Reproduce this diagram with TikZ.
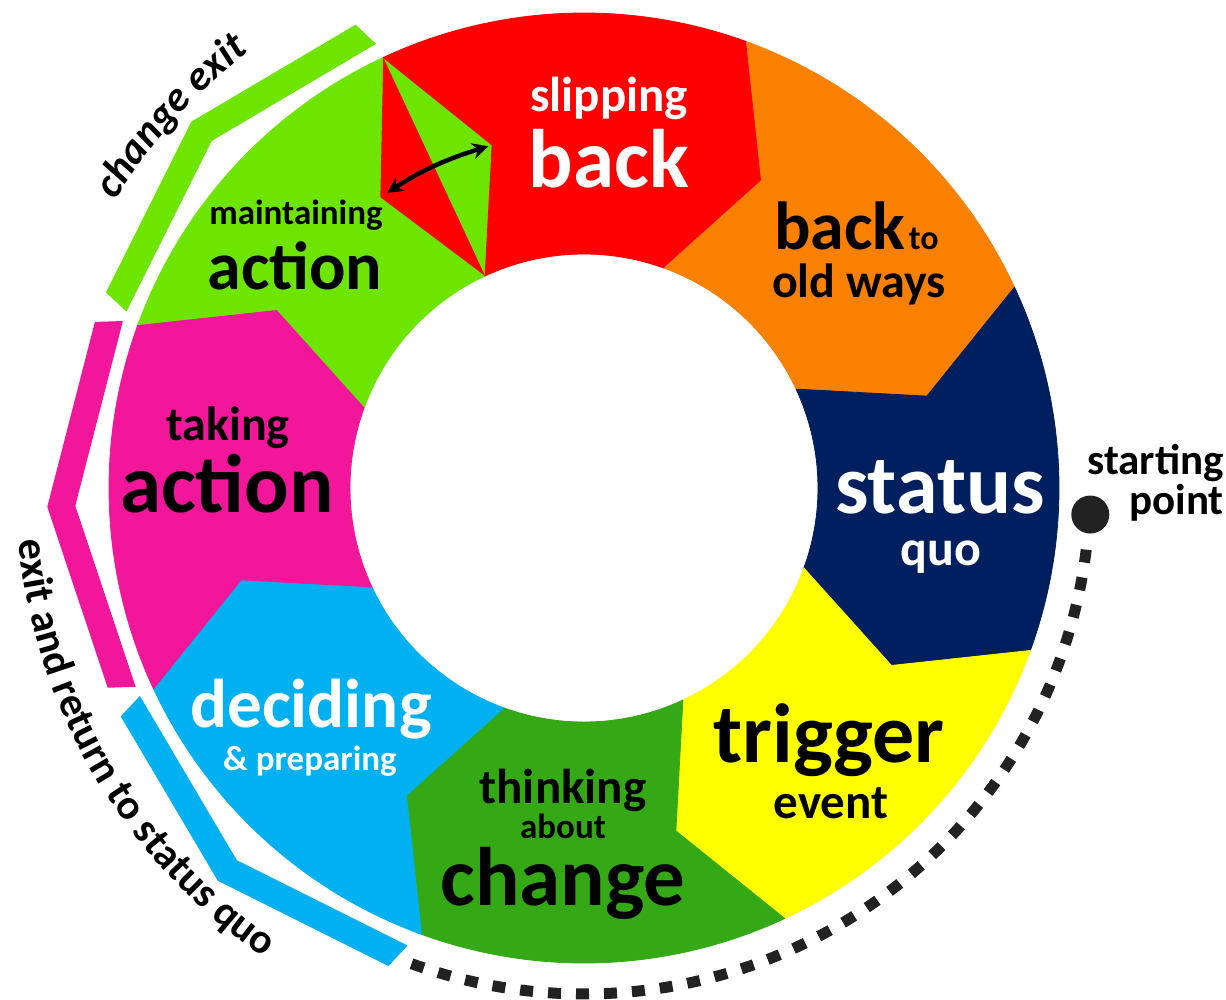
\documentclass[tikz,border=0pt]{standalone}
\usepackage{fontspec}
\setmainfont{Carlito}
\usetikzlibrary{arrows.meta,decorations.text}
\definecolor{cMaint}{HTML}{6DE500}
\definecolor{cSlip}{HTML}{FF0000}
\definecolor{cBack}{HTML}{F98000}
\definecolor{cStat}{HTML}{001F5F}
\definecolor{cTrig}{HTML}{FFFF00}
\definecolor{cThink}{HTML}{35A816}
\definecolor{cDec}{HTML}{00B0F0}
\definecolor{cTake}{HTML}{F2169A}
\definecolor{cDot}{HTML}{222222}
\newcommand\tsz[1]{\fontsize{#1}{#1}\selectfont\bfseries}
\newcommand\cxfont{\fontsize{42}{42}\selectfont\bfseries\itshape}
\newcommand\rtfont{\fontsize{42}{42}\selectfont\bfseries}
\begin{document}
\begin{tikzpicture}[x=1pt,y=1pt,
  lbl/.style={inner sep=0pt, anchor=base},
  wlbl/.style={lbl, text=white},
  dotline/.style={draw=cDot, line width=11pt, dash pattern=on 13pt off 15pt}]
\useasboundingbox (-584,-511) rectangle (642,488);
% ring segments
\foreach \b/\c in {160/cMaint,115/cSlip,70/cBack,25/cStat,-20/cTrig,-65/cThink,-110/cDec,-155/cTake}{
  \pgfmathsetmacro\ba{\b-45}
  \pgfmathsetmacro\bk{\b-55}
  \pgfmathsetmacro\bn{\b-10}
  \filldraw[fill=\c, draw=\c, line width=0.8pt, line join=round]
    (\b:475) arc[start angle=\b, end angle=\ba, radius=475]
    -- (\bk:355) -- (\ba:234)
    arc[start angle=\ba, end angle=\b, radius=234]
    -- (\bn:355) -- cycle;
}
% back-and-forth wedge between maintaining and slipping back
\fill[cSlip] (115:475) -- (125:355) -- (115:234) -- cycle;
\coordinate (kRed) at (125:355);
\coordinate (kGreen) at (105:355);
\draw[line width=4.5pt, {Stealth[length=16pt,width=16pt]}-{Stealth[length=16pt,width=16pt]}, shorten <=8pt, shorten >=4pt] (kRed) to[bend left=8] (kGreen);
% outer exit bands
\foreach \rot/\c in {137/cMaint,182/cTake,227/cDec}{
  \fill[\c, rotate=\rot] (483,183) -- (537,0) -- (483,-183) -- (455,-183) -- (509,0) -- (455,183) -- cycle;
}
% starting point and dotted path
\node[circle, fill=cDot, minimum size=38pt, inner sep=0pt] (start) at (-3:507) {};
\coordinate (pathEnd) at (-110:506);
\draw[dotline] (-7:506) arc[start angle=-7, end angle=-110, radius=506];
\node[lbl, anchor=base east] (st1) at (640,14) {\tsz{43}starting};
\node[lbl, anchor=base east] (st2) at (640,-26) {\tsz{43}point};
% curved outer labels
\path[decorate, decoration={text along path, text align=center, text={|\cxfont|change exit}}]
  (150:550) arc[start angle=150, end angle=126, radius=550];
\path[decorate, decoration={text along path, text align=center, text={|\rtfont|exit and return to status quo}}]
  (182:568) arc[start angle=182, end angle=239, radius=568];
% segment labels
\node[wlbl] (sl1) at (25,376) {\tsz{49}slipping};
\node[wlbl] (sl2) at (25,300) {\tsz{83}back};
\node[lbl] (bo1) at (256,238) {\tsz{68}back};
\node[lbl, anchor=base west] (bo2) at ([xshift=3pt]bo1.base east) {\tsz{34}to};
\node[lbl] (bo3) at (275,190) {\tsz{48}old ways};
\node[wlbl] (sq1) at (356,-25) {\tsz{84}status};
\node[wlbl] (sq2) at (357,-77) {\tsz{50}quo};
\node[lbl] (te1) at (245,-274) {\tsz{84}trigger};
\node[lbl] (te2) at (247,-330) {\tsz{49}event};
\node[lbl] (tc1) at (-21,-315) {\tsz{49}thinking};
\node[lbl] (tc2) at (-21,-350) {\tsz{35}about};
\node[lbl] (tc3) at (-21,-417) {\tsz{83}change};
\node[wlbl] (dp1) at (-273,-239) {\tsz{69}deciding};
\node[wlbl] (dp2) at (-274,-282) {\tsz{35}\& preparing};
\node[lbl] (ta1) at (-356,48) {\tsz{48}taking};
\node[lbl] (ta2) at (-357,-24) {\tsz{83}action};
\node[lbl] (ma1) at (-288,263) {\tsz{35}maintaining};
\node[lbl] (ma2) at (-289,198) {\tsz{68}action};
\end{tikzpicture}
\end{document}
